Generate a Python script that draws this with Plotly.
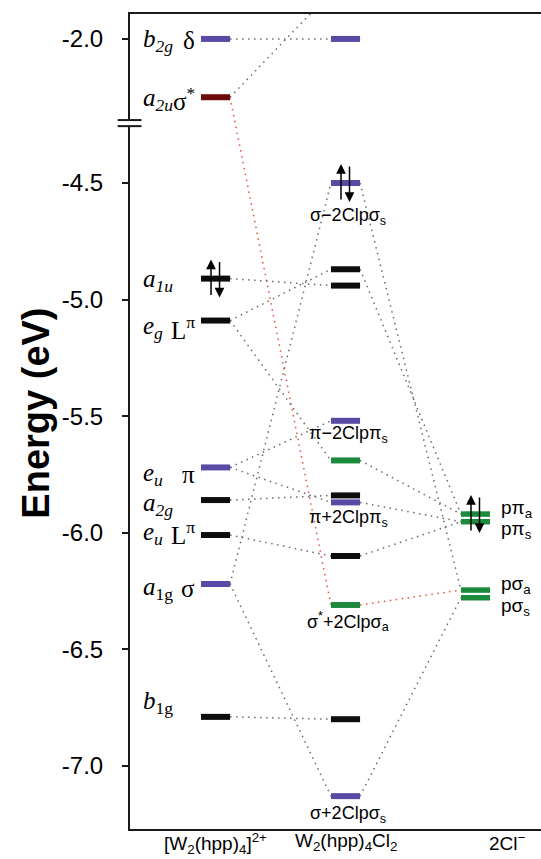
import plotly.graph_objects as go

# ---------------- data ----------------
columns = ["[W<sub>2</sub>(hpp)<sub>4</sub>]<sup>2+</sup>",
           "W<sub>2</sub>(hpp)<sub>4</sub>Cl<sub>2</sub>",
           "2Cl<sup>−</sup>"]
column_x = [0, 1, 2]

# [W2(hpp)4]2+ levels (eV)
left_E = [-2.00, -2.25, -4.91, -5.09, -5.72, -5.86, -6.01, -6.22, -6.79]
left_kind = ["m", "r", "k", "k", "m", "k", "k", "m", "k"]
left_sym = ["<i>b</i><sub><i>2g</i></sub>", "<i>a</i><sub><i>2u</i></sub>",
            "<i>a</i><sub><i>1u</i></sub>", "<i>e</i><sub><i>g</i></sub>",
            "<i>e</i><sub><i>u</i></sub>", "<i>a</i><sub><i>2g</i></sub>",
            "<i>e</i><sub><i>u</i></sub>", "<i>a</i><sub>1g</sub>",
            "<i>b</i><sub>1g</sub>"]
left_greek = ["δ", "σ<sup>*</sup>", "", "L<sup>π</sup>", "π", "", "L<sup>π</sup>", "σ", ""]

# W2(hpp)4Cl2 levels (eV); first one lies above the plotted range
mid_E = [-1.80, -2.00, -4.50, -4.87, -4.94, -5.52, -5.69, -5.84, -5.87, -6.10, -6.31, -6.80, -7.13]
mid_kind = ["r", "m", "m", "k", "k", "m", "g", "k", "m", "k", "g", "k", "m"]
mid_label = {2: "σ−2Clpσ<sub>s</sub>", 5: "π−2Clpπ<sub>s</sub>", 8: "π+2Clpπ<sub>s</sub>",
             10: "σ<sup>*</sup>+2Clpσ<sub>a</sub>", 12: "σ+2Clpσ<sub>s</sub>"}

# 2Cl- levels (eV)
right_E = [-5.92, -5.953, -6.246, -6.279]
right_kind = ["g", "g", "g", "g"]
right_label = ["pπ<sub>a</sub>", "pπ<sub>s</sub>", "pσ<sub>a</sub>", "pσ<sub>s</sub>"]

# correlation lines: (from column, from level, to column, to level, kind)
links = [
    (0, 0, 1, 1, "grey"), (0, 1, 1, 0, "grey"), (0, 1, 1, 10, "red"),
    (0, 2, 1, 4, "grey"), (0, 3, 1, 3, "grey"), (0, 3, 1, 6, "grey"),
    (0, 4, 1, 5, "grey"), (0, 4, 1, 8, "grey"), (0, 5, 1, 7, "grey"),
    (0, 6, 1, 9, "grey"), (0, 7, 1, 2, "grey"), (0, 7, 1, 12, "grey"),
    (0, 8, 1, 11, "grey"),
    (1, 2, 2, 2, "grey"), (1, 3, 2, 0, "grey"), (1, 6, 2, 0, "grey"),
    (1, 8, 2, 1, "grey"), (1, 9, 2, 1, "grey"), (1, 10, 2, 2, "red"),
    (1, 12, 2, 3, "grey"),
]

# electron pairs drawn as arrows: (column, level index)
pairs = [(0, 2), (1, 2), (2, 0)]

y_ticks = [-2.0, -4.5, -5.0, -5.5, -6.0, -6.5, -7.0]

# ---------------- broken axis mapping ----------------
GAP = 1.882
def yp(E):
    return E - GAP if E > -3.3 else E

Y_MIN, Y_MAX = -7.271, -3.775
BREAK = -4.243
X_MIN, X_MAX = -0.658, 2.504
HW = 0.112

levels = [left_E, mid_E, right_E]
kinds = [left_kind, mid_kind, right_kind]
COL = {"m": "#5a4aa6", "r": "#6e0a0a", "k": "#0d0d0d", "g": "#1c8a3c"}
LINK_COL = {"grey": "#6a6a6a", "red": "#e8503a"}

fig = go.Figure()

# correlation lines
for c0, i0, c1, i1, k in links:
    fig.add_trace(go.Scatter(
        x=[column_x[c0] + HW, column_x[c1] - HW],
        y=[yp(levels[c0][i0]), yp(levels[c1][i1])],
        mode="lines", line=dict(color=LINK_COL[k], width=1.5, dash="1.5px,4.5px"),
        hoverinfo="skip", showlegend=False))

# level bars
for c, (Es, ks) in enumerate(zip(levels, kinds)):
    w = 6 if c < 2 else 5.5
    for E, k in zip(Es, ks):
        fig.add_trace(go.Scatter(
            x=[column_x[c] - HW, column_x[c] + HW], y=[yp(E), yp(E)],
            mode="lines", line=dict(color=COL[k], width=w),
            hoverinfo="skip", showlegend=False))

ann = []
SERIF = "Liberation Serif, Times New Roman, serif"
SANS = "Liberation Sans, Arial, sans-serif"

left_dy = [-2, -2, -2, -7, -7, -4, 2, -5, 14]
for E, s, g, dy in zip(left_E, left_sym, left_greek, left_dy):
    ann.append(dict(x=-0.575, y=yp(E), xref="x", yref="y", text=s, showarrow=False,
                    xanchor="left", yanchor="middle", yshift=dy,
                    font=dict(family=SERIF, size=25, color="black")))
    if g:
        ann.append(dict(x=-0.142, y=yp(E), xref="x", yref="y", text=g, showarrow=False,
                        xanchor="right", yanchor="middle", yshift=dy,
                        font=dict(family=SERIF, size=25, color="black")))

mid_dy = {2: -33, 5: -14, 8: -16, 10: -17, 12: -18}
for i, t in mid_label.items():
    ann.append(dict(x=1.02, y=yp(mid_E[i]), xref="x", yref="y", text=t, showarrow=False,
                    xanchor="center", yanchor="middle", yshift=mid_dy[i],
                    font=dict(family=SANS, size=18, color="black")))

right_dy = [5, -8, 5, -9]
for E, t, dy in zip(right_E, right_label, right_dy):
    ann.append(dict(x=2.18, y=yp(E), xref="x", yref="y", text=t, showarrow=False,
                    xanchor="left", yanchor="middle", yshift=dy,
                    font=dict(family=SANS, size=19, color="black")))

# electron arrows
for c, i in pairs:
    E = yp(levels[c][i])
    for sx, sy, ay in [(-4.5, 19, 37), (4, -19, -37)]:
        ann.append(dict(x=column_x[c], y=E, xref="x", yref="y", text="", showarrow=True,
                        xshift=sx, yshift=sy, ax=0, ay=ay, arrowhead=2, arrowsize=1.3,
                        arrowwidth=1.5, arrowcolor="black", standoff=0))

# column names
name_x = [0, 1, 2.25]
for x, t in zip(name_x, columns):
    ann.append(dict(x=x, y=0, xref="x", yref="paper", text=t, showarrow=False,
                    xanchor="center", yanchor="top", yshift=1,
                    font=dict(family=SANS, size=19, color="black")))

# axis title
ann.append(dict(x=-0.228, y=0.51, xref="paper", yref="paper", text="<b>Energy (eV)</b>",
                textangle=-90, showarrow=False, xanchor="center", yanchor="middle",
                font=dict(family=SANS, size=38, color="black")))

# axis break marks
shapes = [
    dict(type="rect", xref="paper", yref="y", x0=-0.01, x1=0.01,
         y0=BREAK - 0.011, y1=BREAK + 0.011, fillcolor="white", line_width=0, layer="above"),
    dict(type="line", xref="paper", yref="y", x0=-0.03, x1=0.028,
         y0=BREAK + 0.013, y1=BREAK + 0.013, line=dict(color="#1a1a1a", width=2), layer="above"),
    dict(type="line", xref="paper", yref="y", x0=-0.03, x1=0.028,
         y0=BREAK - 0.013, y1=BREAK - 0.013, line=dict(color="#1a1a1a", width=2), layer="above"),
]

fig.update_layout(
    width=541, height=859, margin=dict(l=130, r=0, t=14, b=30),
    paper_bgcolor="white", plot_bgcolor="white",
    annotations=ann, shapes=shapes, showlegend=False,
    xaxis=dict(range=[X_MIN, X_MAX], showline=True, mirror=True, linecolor="#1a1a1a",
               linewidth=2, showgrid=False, zeroline=False, showticklabels=False, ticks=""),
    yaxis=dict(range=[Y_MIN, Y_MAX], showline=True, linecolor="#1a1a1a", linewidth=2,
               showgrid=False, zeroline=False, ticks="outside", ticklen=6, tickwidth=2,
               tickcolor="#1a1a1a", tickvals=[yp(v) for v in y_ticks],
               ticktext=[f"{v:.1f}" for v in y_ticks], ticklabelstandoff=14,
               tickfont=dict(family=SANS, size=24, color="black")),
)

fig.write_html("out.html")
